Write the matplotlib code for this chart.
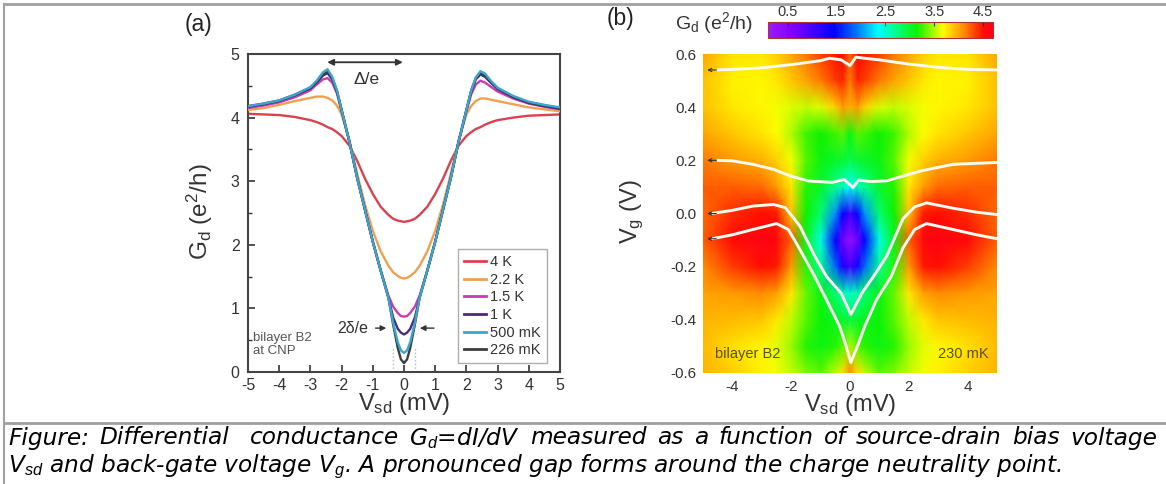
import numpy as np
import matplotlib.pyplot as plt
from matplotlib.colors import LinearSegmentedColormap
from matplotlib.lines import Line2D

plt.rcParams['font.family'] = ['Liberation Sans', 'DejaVu Sans']
plt.rcParams['mathtext.fontset'] = 'custom'
plt.rcParams['mathtext.rm'] = 'Liberation Sans'
plt.rcParams['mathtext.it'] = 'Liberation Sans:italic'
plt.rcParams['axes.unicode_minus'] = False

# ---- panel (a): Gd vs Vsd at several temperatures ----
vsd_a = [-5, -4.5, -4, -3.5, -3, -2.8, -2.6, -2.45, -2.3, -2.15, -2, -1.75, -1.5, -1.25,
         -1, -0.75, -0.5, -0.35, -0.2, -0.1, 0,
         0.1, 0.2, 0.35, 0.5, 0.75, 1, 1.25, 1.5, 1.75, 2, 2.15, 2.3, 2.45, 2.6, 2.8, 3,
         3.5, 4, 4.5, 5]
g_4K = [4.06, 4.05, 4.04, 4.01, 3.96, 3.93, 3.89, 3.85, 3.82, 3.77, 3.71, 3.56, 3.32, 3.04,
        2.8, 2.6, 2.47, 2.41, 2.38, 2.37, 2.36,
        2.37, 2.38, 2.41, 2.47, 2.6, 2.8, 3.04, 3.32, 3.56, 3.71, 3.77, 3.82, 3.85, 3.89, 3.93, 3.96,
        4.0, 4.03, 4.04, 4.05]
g_2K2 = [4.12, 4.15, 4.2, 4.26, 4.31, 4.33, 4.33, 4.31, 4.27, 4.19, 4.05, 3.64, 3.12, 2.63,
         2.22, 1.9, 1.67, 1.57, 1.51, 1.48, 1.47,
         1.48, 1.51, 1.57, 1.67, 1.9, 2.22, 2.63, 3.12, 3.64, 4.05, 4.18, 4.26, 4.3, 4.3, 4.28, 4.26,
         4.21, 4.16, 4.13, 4.1]
g_1K5 = [4.15, 4.19, 4.24, 4.32, 4.43, 4.52, 4.6, 4.62, 4.55, 4.38, 4.1, 3.62, 3.05, 2.55,
         2.05, 1.6, 1.2, 1.03, 0.93, 0.88, 0.87,
         0.88, 0.93, 1.03, 1.2, 1.6, 2.05, 2.55, 3.05, 3.62, 4.1, 4.36, 4.52, 4.58, 4.55, 4.48, 4.41,
         4.3, 4.22, 4.17, 4.13]
g_1K = [4.17, 4.21, 4.26, 4.35, 4.46, 4.55, 4.66, 4.7, 4.6, 4.41, 4.12, 3.62, 3.05, 2.55,
        2.05, 1.6, 1.17, 0.86, 0.68, 0.62, 0.59,
        0.62, 0.68, 0.86, 1.17, 1.6, 2.05, 2.55, 3.05, 3.62, 4.12, 4.4, 4.6, 4.68, 4.64, 4.54, 4.45,
        4.32, 4.23, 4.18, 4.14]
g_500mK = [4.18, 4.22, 4.27, 4.36, 4.48, 4.58, 4.71, 4.76, 4.64, 4.43, 4.12, 3.62, 3.05, 2.55,
           2.05, 1.6, 1.17, 0.78, 0.47, 0.34, 0.3,
           0.34, 0.47, 0.78, 1.17, 1.6, 2.05, 2.55, 3.05, 3.62, 4.12, 4.42, 4.63, 4.73, 4.69, 4.57, 4.47,
           4.34, 4.25, 4.2, 4.16]
g_226mK = [4.18, 4.22, 4.27, 4.36, 4.47, 4.56, 4.68, 4.72, 4.62, 4.42, 4.12, 3.62, 3.05, 2.55,
           2.05, 1.6, 1.17, 0.75, 0.38, 0.2, 0.14,
           0.2, 0.38, 0.75, 1.17, 1.6, 2.05, 2.55, 3.05, 3.62, 4.12, 4.42, 4.62, 4.7, 4.66, 4.55, 4.46,
           4.33, 4.24, 4.19, 4.15]
temp_labels = ['4 K', '2.2 K', '1.5 K', '1 K', '500 mK', '226 mK']
temp_colors = ['#d9434f', '#f0a050', '#c83cb4', '#4b2a7a', '#3aa5d0', '#3d3d3d']

# ---- panel (b): colour map Gd(Vsd, Vg) ----
vsd_map = [-5, -4, -3, -2.5, -2, -1.5, -1, -0.5, -0.25, 0, 0.25, 0.5, 1, 1.5, 2, 2.5, 3, 4, 5]
vg_map = [0.6, 0.5, 0.4, 0.3, 0.2, 0.1, 0.0, -0.1, -0.2, -0.3, -0.4, -0.5, -0.6]
g_map = [
    [4.0, 3.78, 3.75, 3.85, 4.0, 4.15, 4.35, 4.45, 4.5, 4.2, 4.5, 4.45, 4.35, 4.15, 4.0, 3.85, 3.75, 3.78, 4.0],
    [3.9, 3.72, 3.7, 3.75, 3.88, 4.0, 4.15, 4.35, 4.42, 4.15, 4.42, 4.35, 4.15, 4.0, 3.88, 3.75, 3.7, 3.72, 3.9],
    [3.9, 3.75, 3.7, 3.65, 3.6, 3.55, 3.6, 3.85, 4.05, 3.95, 4.05, 3.85, 3.6, 3.55, 3.6, 3.65, 3.7, 3.75, 3.9],
    [4.0, 3.88, 3.78, 3.68, 3.5, 3.25, 3.15, 3.25, 3.3, 3.1, 3.3, 3.25, 3.15, 3.25, 3.5, 3.68, 3.78, 3.88, 4.0],
    [4.15, 4.05, 3.95, 3.85, 3.65, 3.3, 3.1, 3.02, 2.98, 2.92, 2.98, 3.02, 3.1, 3.3, 3.65, 3.85, 3.95, 4.05, 4.15],
    [4.25, 4.25, 4.2, 4.05, 3.75, 3.2, 3.0, 2.7, 2.55, 2.35, 2.55, 2.7, 3.0, 3.2, 3.75, 4.05, 4.2, 4.25, 4.25],
    [4.2, 4.4, 4.5, 4.45, 3.9, 3.15, 2.8, 2.0, 1.45, 1.0, 1.45, 2.0, 2.8, 3.15, 3.9, 4.45, 4.5, 4.4, 4.2],
    [4.25, 4.55, 4.65, 4.6, 4.25, 3.05, 2.45, 1.45, 0.7, 0.3, 0.7, 1.45, 2.45, 3.05, 4.25, 4.6, 4.65, 4.55, 4.25],
    [4.1, 4.35, 4.5, 4.45, 4.05, 3.2, 2.7, 1.85, 1.35, 1.0, 1.35, 1.85, 2.7, 3.2, 4.05, 4.45, 4.5, 4.35, 4.1],
    [4.0, 4.05, 4.1, 4.02, 3.75, 3.35, 3.1, 2.8, 2.6, 2.5, 2.6, 2.8, 3.1, 3.35, 3.75, 4.02, 4.1, 4.05, 4.0],
    [3.95, 3.92, 3.88, 3.75, 3.55, 3.3, 3.12, 3.05, 3.0, 2.95, 3.0, 3.05, 3.12, 3.3, 3.55, 3.75, 3.88, 3.92, 3.95],
    [3.92, 3.8, 3.7, 3.62, 3.45, 3.2, 3.1, 3.2, 3.3, 3.5, 3.3, 3.2, 3.1, 3.2, 3.45, 3.62, 3.7, 3.8, 3.92],
    [3.95, 3.85, 3.72, 3.65, 3.55, 3.4, 3.3, 3.55, 3.8, 4.1, 3.8, 3.55, 3.3, 3.4, 3.55, 3.65, 3.72, 3.85, 3.95],
]

# white line cuts drawn on top of the map
cut1_v = [-4.5, -4, -3, -2, -1, -0.7, -0.3, 0, 0.2, 0.5, 1, 2, 3, 4, 5]
cut1_g = [0.54, 0.542, 0.548, 0.56, 0.575, 0.584, 0.578, 0.556, 0.588, 0.584, 0.578, 0.562, 0.55, 0.542, 0.54]
cut2_v = [-4.5, -4, -3.3, -2.6, -2, -1.4, -0.6, -0.2, 0.1, 0.3, 0.7, 1.25, 2.4, 3.5, 5]
cut2_g = [0.2, 0.198, 0.185, 0.166, 0.14, 0.122, 0.117, 0.128, 0.098, 0.126, 0.12, 0.123, 0.16, 0.185, 0.192]
cut3_v = [-4.7, -4, -3.3, -2.6, -2.2, -1.7, -1.2, -0.8, -0.3, 0.03, 0.4, 0.8, 1.25, 1.8, 2.2, 2.6, 3.5, 4.3, 5]
cut3_g = [0.0, 0.012, 0.028, 0.034, 0.022, -0.048, -0.16, -0.237, -0.3, -0.38, -0.3, -0.237, -0.16, -0.02, 0.025, 0.04, 0.02, 0.005, -0.004]
cut4_v = [-4.7, -4, -3.3, -2.5, -2.1, -1.7, -1.2, -0.8, -0.35, -0.2, 0.03, 0.25, 0.5, 0.9, 1.4, 1.8, 2.2, 2.6, 3.5, 4.3, 5]
cut4_g = [-0.095, -0.08, -0.06, -0.038, -0.06, -0.136, -0.237, -0.325, -0.425, -0.475, -0.56, -0.5, -0.425, -0.325, -0.237, -0.13, -0.06, -0.038, -0.06, -0.08, -0.095]
cut_vg = [0.54, 0.2, 0.0, -0.095]

cmap = LinearSegmentedColormap.from_list('gd', [
    (0.0, (0.62, 0.1, 1.0)), (0.109, (0.5, 0.0, 1.0)), (0.2935, (0.0, 0.0, 1.0)),
    (0.391, (0.0, 0.45, 1.0)), (0.489, (0.0, 1.0, 1.0)), (0.576, (0.0, 1.0, 0.5)),
    (0.663, (0.05, 0.95, 0.0)), (0.778, (1.0, 1.0, 0.0)), (0.87, (1.0, 0.55, 0.0)),
    (0.957, (1.0, 0.05, 0.0)), (1.0, (1.0, 0.0, 0.1))])

W, H = 1166, 484
fig = plt.figure(figsize=(W / 100, H / 100), dpi=100)
tc = '#333333'

# frame lines of the original table cell
fig.add_artist(Line2D([4 / W, 1], [1 - 4 / H, 1 - 4 / H], color='#a0a0a0', lw=2))
fig.add_artist(Line2D([4 / W, 4 / W], [0, 1 - 4 / H], color='#a0a0a0', lw=1.5))
fig.add_artist(Line2D([4 / W, 1], [1 - 423 / H, 1 - 423 / H], color='#a0a0a0', lw=2))

# ---------- (a) ----------
axa = fig.add_axes([248 / W, 1 - 372 / H, 312 / W, 318 / H])
curves = [g_4K, g_2K2, g_1K5, g_1K, g_500mK, g_226mK]
zs = [2, 3, 4, 5, 7, 6]
for lab, col, g, z in zip(temp_labels, temp_colors, curves, zs):
    axa.plot(vsd_a, g, color=col, lw=1.7, label=lab, zorder=z)
axa.set_xlim(-5, 5)
axa.set_ylim(0, 5)
axa.set_xticks(range(-5, 6))
axa.set_yticks(range(0, 6))
axa.set_yticks(np.arange(0.5, 5, 1), minor=True)
axa.tick_params(direction='in', length=5, width=1.2, labelsize=11.5, colors=tc)
axa.tick_params(axis='y', pad=6)
axa.tick_params(axis='x', pad=4)
axa.tick_params(which='minor', direction='in', length=3, width=1.0, colors=tc)
for s in axa.spines.values():
    s.set_linewidth(1.5)
    s.set_color('#444444')
leg = axa.legend(loc='lower right', bbox_to_anchor=(0.958, 0.028), borderaxespad=0,
                 fontsize=10.5, handlelength=1.5, handletextpad=0.3, labelspacing=0.25,
                 fancybox=False, edgecolor='#999999', borderpad=0.4)
for t in leg.get_texts():
    t.set_color(tc)
for l in leg.get_lines():
    l.set_linewidth(2)

axa.annotate('', xy=(-2.55, 4.87), xytext=(0.05, 4.87),
             arrowprops=dict(arrowstyle='<|-|>', color='#333333', lw=1.3, mutation_scale=9))
axa.text(-1.2, 4.6, 'Δ/e', fontsize=12.5, color=tc, ha='center', va='center')
axa.annotate('', xy=(-0.48, 0.69), xytext=(-1.0, 0.69),
             arrowprops=dict(arrowstyle='-|>', color='#333333', lw=1.0, mutation_scale=8))
axa.annotate('', xy=(0.42, 0.69), xytext=(1.05, 0.69),
             arrowprops=dict(arrowstyle='-|>', color='#333333', lw=1.0, mutation_scale=8))
axa.text(-1.15, 0.69, '2δ/e', fontsize=11.5, color=tc, ha='right', va='center')
axa.plot([-0.35, -0.35], [0, 0.4], ls=':', color='#bbbbbb', lw=1)
axa.plot([0.35, 0.35], [0, 0.4], ls=':', color='#bbbbbb', lw=1)
axa.text(-4.85, 0.43, 'bilayer B2\nat CNP', fontsize=9.5, color='#555555',
         ha='left', va='center', linespacing=1.1)

fig.text(198 / W, 1 - 24 / H, '(a)', fontsize=16.5, ha='center', va='center', color='#222222')
fig.text(200 / W, 1 - 212 / H, r'G$_\mathrm{d}$ (e$^\mathrm{2}$/h)', fontsize=17.5, rotation=90,
         ha='center', va='center', color=tc)
fig.text(404 / W, 1 - 404 / H, r'V$_\mathrm{sd}$ (mV)', fontsize=17, ha='center', va='center', color=tc)

# ---------- (b) ----------
axb = fig.add_axes([703 / W, 1 - 373 / H, 294 / W, 319 / H])
X, Y = np.meshgrid(vsd_map, vg_map)
mesh = axb.pcolormesh(X, Y, np.array(g_map), cmap=cmap, vmin=0.1, vmax=4.7, shading='gouraud')
for v, g in [(cut1_v, cut1_g), (cut2_v, cut2_g), (cut3_v, cut3_g), (cut4_v, cut4_g)]:
    axb.plot(v, g, color='#fbfbf0', lw=2.1, solid_capstyle='round')
for vg in cut_vg:
    axb.annotate('', xy=(-4.95, vg), xytext=(-4.45, vg),
                 arrowprops=dict(arrowstyle='->', color='#333333', lw=0.8, mutation_scale=6))
axb.set_xlim(-5, 5)
axb.set_ylim(-0.6, 0.6)
axb.set_xticks([-4, -2, 0, 2, 4])
axb.set_yticks([-0.6, -0.4, -0.2, 0.0, 0.2, 0.4, 0.6])
axb.set_yticklabels(['-0.6', '-0.4', '-0.2', '0.0', '0.2', '0.4', '0.6'])
axb.set_xticklabels(['-4', '-2', '0', '2', '4'])
axb.tick_params(length=0, labelsize=11, colors=tc, pad=5)
for s in axb.spines.values():
    s.set_visible(False)
axb.text(-4.6, -0.53, 'bilayer B2', fontsize=10.5, color='#5a5018', ha='left', va='center')
axb.text(4.7, -0.53, '230 mK', fontsize=10.5, color='#5a5018', ha='right', va='center')

fig.text(620 / W, 1 - 18 / H, '(b)', fontsize=16.5, ha='center', va='center', color='#222222')
fig.text(632 / W, 1 - 212 / H, r'V$_\mathrm{g}$ (V)', fontsize=17, rotation=90,
         ha='center', va='center', color=tc)
fig.text(850 / W, 1 - 405 / H, r'V$_\mathrm{sd}$ (mV)', fontsize=17, ha='center', va='center', color=tc)
fig.text(714 / W, 1 - 23 / H, r'G$_\mathrm{d}$ (e$^\mathrm{2}$/h)', fontsize=14, ha='center', va='center', color=tc)

cax = fig.add_axes([768 / W, 1 - 38 / H, 225 / W, 16 / H])
cb = fig.colorbar(mesh, cax=cax, orientation='horizontal', ticks=[0.5, 1.5, 2.5, 3.5, 4.5])
cax.xaxis.set_ticks_position('top')
cax.tick_params(direction='in', length=3, width=0.8, labelsize=10.5, colors=tc, pad=2)
cb.outline.set_edgecolor('#aa3333')
cb.outline.set_linewidth(0.8)

# ---------- caption (first line justified, second line natural) ----------
cap_font = 'DejaVu Sans'
cap1_words = ['Figure:', 'Differential', 'conductance', 'G$_d$=dI/dV', 'measured', 'as', 'a',
              'function', 'of', 'source-drain', 'bias', 'voltage']
cap2 = 'V$_{sd}$ and back-gate voltage V$_g$. A pronounced gap forms around the charge neutrality point.'
renderer = fig.canvas.get_renderer()
x_left, x_right, x_end2 = 8, 1157, 1062
line2 = fig.text(x_left / W, 1 - 467 / H, cap2, fontsize=16, fontstyle='italic', family=cap_font,
                 ha='left', va='center', color='black')
cap_fs = 16 * (x_end2 - x_left) / line2.get_window_extent(renderer).width
line2.set_fontsize(cap_fs)
word_texts = [fig.text(0, 1 - 438 / H, w, fontsize=cap_fs, fontstyle='italic', family=cap_font,
                       ha='left', va='center', color='black') for w in cap1_words]
widths = [t.get_window_extent(renderer).width for t in word_texts]
gap = (x_right - x_left - sum(widths)) / len(cap1_words)
x = x_left
for i, (t, w) in enumerate(zip(word_texts, widths)):
    t.set_x(x / W)
    x += w + gap * (2 if i == 1 else 1)

fig.savefig('out.png', dpi=100)
